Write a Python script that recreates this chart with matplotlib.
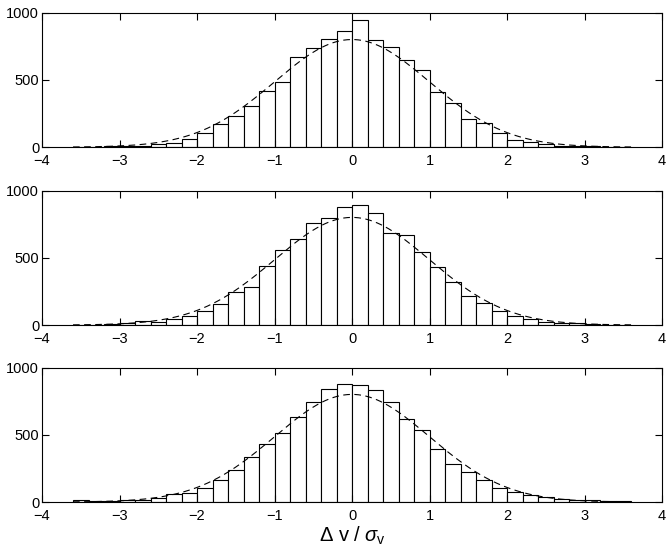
import numpy as np
import matplotlib
matplotlib.use("Agg")
import matplotlib.pyplot as plt

plt.rcParams['font.family'] = ['Liberation Sans', 'DejaVu Sans']
plt.rcParams['mathtext.fontset'] = 'custom'
plt.rcParams['mathtext.rm'] = 'Liberation Sans'
plt.rcParams['mathtext.it'] = 'Liberation Sans:italic'

# bin centres (width 0.2, from -3.6 to 3.6)
bin_centres = np.round(np.arange(-3.5, 3.51, 0.2), 2)
bin_width = 0.2

# counts (top to bottom)
counts_top = [1, 3, 5, 8, 10, 20, 32, 62, 107, 170, 235, 307, 415, 487, 667, 737, 805, 867,
              947, 795, 745, 647, 572, 407, 325, 210, 177, 105, 55, 40, 25, 12, 7, 7, 3, 1]
counts_mid = [2, 2, 7, 12, 27, 22, 42, 70, 102, 157, 249, 282, 436, 554, 641, 761, 798, 875,
              893, 835, 686, 671, 544, 429, 322, 217, 165, 102, 65, 47, 25, 17, 15, 7, 3, 2]
counts_bot = [12, 5, 7, 12, 17, 32, 57, 65, 105, 164, 239, 333, 430, 515, 634, 746, 838, 876,
              871, 831, 746, 619, 532, 391, 281, 224, 164, 107, 75, 52, 35, 20, 15, 12, 5, 5]

# gaussian reference curve (dashed)
gauss_peak = 800.0
gauss_sigma = 1.0

xticks = [-4, -3, -2, -1, 0, 1, 2, 3, 4]
yticks = [0, 500, 1000]

fig = plt.figure(figsize=(6.71, 5.49), dpi=100)
bottoms = [0.732, 0.408, 0.0856]
xg = np.linspace(-3.6, 3.6, 300)
yg = gauss_peak * np.exp(-0.5 * (xg / gauss_sigma) ** 2)

for b, counts in zip(bottoms, [counts_top, counts_mid, counts_bot]):
    ax = fig.add_axes([0.0626, b, 0.924, 0.245])
    ax.bar(bin_centres, counts, width=bin_width, color='white', edgecolor='black', linewidth=0.8)
    ax.plot(xg, yg, color='black', linestyle=(0, (6, 4)), linewidth=0.8)
    ax.set_xlim(-4, 4)
    ax.set_ylim(0, 1000)
    ax.set_xticks(xticks)
    ax.set_xticklabels(['\u22124', '\u22123', '\u22122', '\u22121', '0', '1', '2', '3', '4'])
    ax.set_yticks(yticks)
    ax.tick_params(direction='in', top=True, right=True, length=5, width=0.8, labelsize=10.5)
    ax.tick_params(axis='x', pad=5)
    ax.tick_params(axis='y', pad=2)
    for s in ax.spines.values():
        s.set_linewidth(0.8)

ax.set_xlabel(r'$\Delta\ \mathrm{v}\ /\ \sigma_\mathrm{v}$', fontsize=14.5, labelpad=1)

fig.savefig('out.png', dpi=100)
